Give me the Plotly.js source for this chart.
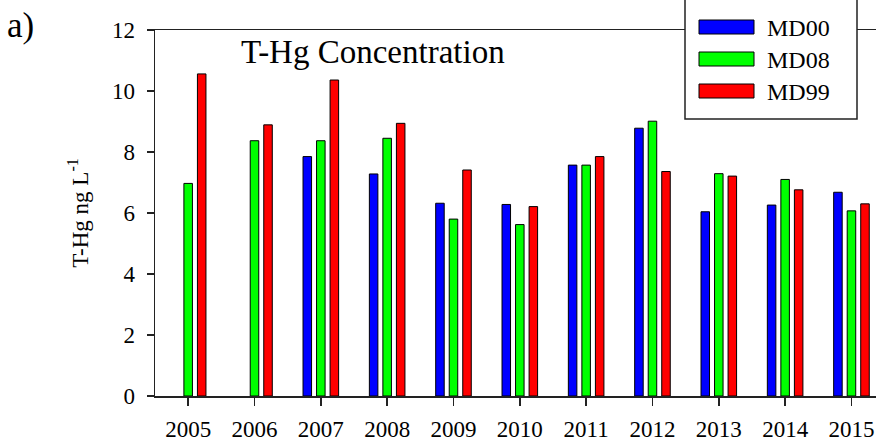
<!DOCTYPE html>
<html>
<head>
<meta charset="utf-8">
<script src="https://cdn.plot.ly/plotly-3.0.1.min.js"></script>
<style>html,body{margin:0;padding:0;background:#fff;}#chart{width:876px;height:444px;}</style>
</head>
<body>
<div id="chart"></div>
<script>
const years = [2005, 2006, 2007, 2008, 2009, 2010, 2011, 2012, 2013, 2014, 2015];
const seriesNames = ["MD00", "MD08", "MD99"];
const seriesColors = ["#0000FF", "#00FF00", "#FF0000"];
const md00 = [null, null, 7.85, 7.28, 6.32, 6.28, 7.57, 8.78, 6.04, 6.26, 6.68];
const md08 = [6.97, 8.37, 8.37, 8.45, 5.80, 5.62, 7.57, 9.01, 7.29, 7.10, 6.07];
const md99 = [10.56, 8.89, 10.36, 8.94, 7.41, 6.21, 7.85, 7.36, 7.21, 6.76, 6.30];
const yTicks = [0, 2, 4, 6, 8, 10, 12];

const FONT = '"Liberation Serif", "Times New Roman", serif';
const seriesValues = [md00, md08, md99];

const traces = seriesValues.map((vals, i) => ({
  type: 'bar',
  name: seriesNames[i],
  x: years,
  y: vals,
  marker: {color: seriesColors[i], line: {color: '#000', width: 1}},
  showlegend: false,
  hoverinfo: 'x+y+name'
}));

// plot area geometry in pixels
const W = 876, H = 444, L = 155, R = 0, T = 30, B = 48;
const pw = W - L - R, ph = H - T - B;
const px = x => (x - L) / pw;
const py = y => (H - B - y) / ph;

const shapes = [];
const annotations = [];
// legend box
shapes.push({type: 'rect', xref: 'paper', yref: 'paper', x0: px(685), x1: px(857), y0: py(119), y1: py(-5),
  line: {color: '#222', width: 1.5}, fillcolor: '#fff', layer: 'above'});
const legCenters = [27, 59, 91];
seriesNames.forEach((n, i) => {
  shapes.push({type: 'rect', xref: 'paper', yref: 'paper', x0: px(699), x1: px(754),
    y0: py(legCenters[i] + 7), y1: py(legCenters[i] - 7),
    line: {color: '#000', width: 1}, fillcolor: seriesColors[i], layer: 'above'});
  annotations.push({xref: 'paper', yref: 'paper', x: px(765), y: py(legCenters[i] + 1), xanchor: 'left', yanchor: 'middle',
    text: n, showarrow: false, font: {family: FONT, size: 24, color: '#000'}});
});
// chart title inside plot
annotations.push({xref: 'paper', yref: 'paper', x: px(239), y: py(52), xanchor: 'left', yanchor: 'middle',
  text: 'T-Hg Concentration', showarrow: false, font: {family: FONT, size: 33, color: '#000'}});
// panel label
annotations.push({xref: 'paper', yref: 'paper', x: px(5), y: py(25), xanchor: 'left', yanchor: 'middle',
  text: 'a)', showarrow: false, font: {family: FONT, size: 35, color: '#000'}});

const layout = {
  width: W, height: H,
  margin: {l: L, r: R, t: T, b: B, pad: 0},
  paper_bgcolor: '#fff', plot_bgcolor: '#fff',
  font: {family: FONT, color: '#000'},
  barmode: 'group', bargap: 0.388, bargroupgap: 0.37,
  showlegend: false,
  xaxis: {
    range: [2004.5, 2015.37], tickvals: years, ticktext: years.map(String),
    showgrid: false, zeroline: false, showline: true, mirror: true,
    linecolor: '#222', linewidth: 1.5, ticks: 'outside', ticklen: 8, tickwidth: 1.5, tickcolor: '#222',
    tickfont: {family: FONT, size: 23, color: '#000'}, ticklabelstandoff: 4
  },
  yaxis: {
    range: [0, 12], tickvals: yTicks, ticktext: yTicks.map(String),
    showgrid: false, zeroline: false, showline: true,
    linecolor: '#222', linewidth: 1.5, ticks: 'outside', ticklen: 7, tickwidth: 1.5, tickcolor: '#222',
    tickfont: {family: FONT, size: 23, color: '#000'}, ticklabelstandoff: 7,
    title: {text: 'T-Hg ng L<sup>-1</sup>', font: {family: FONT, size: 23, color: '#000'}, standoff: 17}
  },
  shapes: shapes,
  annotations: annotations
};

Plotly.newPlot('chart', traces, layout, {displayModeBar: false, staticPlot: true});
</script>
</body>
</html>
